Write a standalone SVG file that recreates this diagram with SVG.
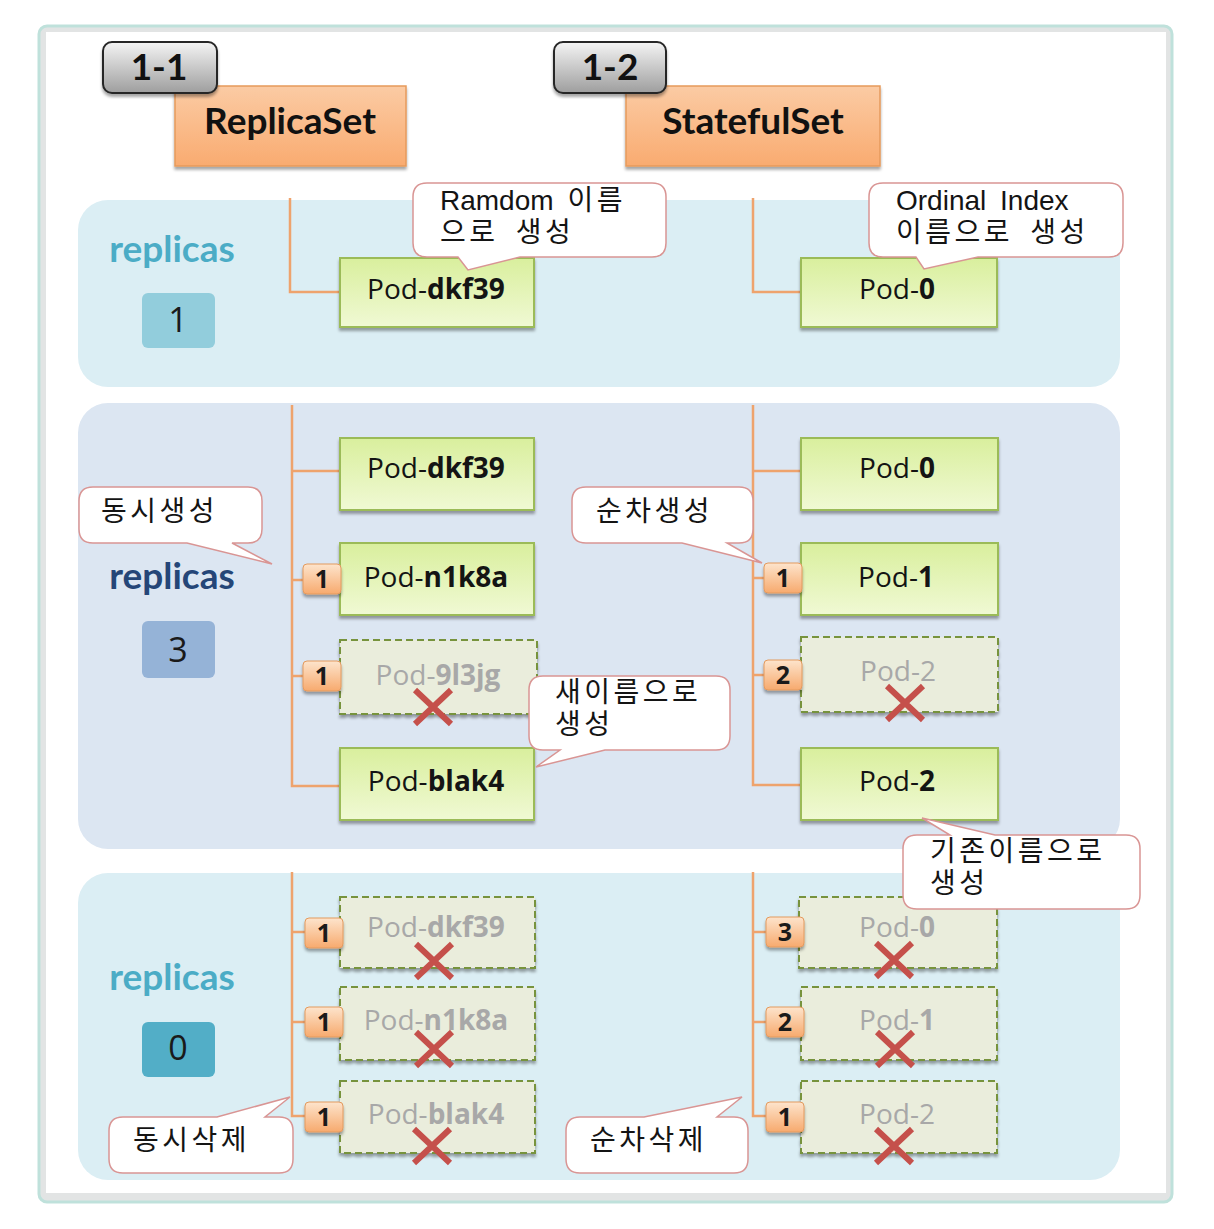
<svg xmlns="http://www.w3.org/2000/svg" width="1214" height="1229" viewBox="0 0 1214 1229">
<defs>
<filter id="sh" x="-10%" y="-10%" width="120%" height="135%"><feDropShadow dx="0" dy="3" stdDeviation="1.5" flood-color="#000" flood-opacity="0.35"/></filter>
<linearGradient id="gPod" x1="0" y1="0" x2="0" y2="1"><stop offset="0" stop-color="#d9ef9d"/><stop offset="1" stop-color="#f0f9d4"/></linearGradient>
<linearGradient id="gOr" x1="0" y1="0" x2="0" y2="1"><stop offset="0" stop-color="#fbcba4"/><stop offset="1" stop-color="#f9ab70"/></linearGradient>
<linearGradient id="gGr" x1="0" y1="0" x2="0" y2="1"><stop offset="0" stop-color="#f4f4f4"/><stop offset="1" stop-color="#9e9e9e"/></linearGradient>
<linearGradient id="gBd" x1="0" y1="0" x2="0" y2="1"><stop offset="0" stop-color="#fde4cc"/><stop offset="1" stop-color="#f7aa6e"/></linearGradient>
<style>
.pod{fill:url(#gPod);stroke:#9bbb59;stroke-width:2;filter:url(#sh)}
.dpod{fill:#eaeddc;stroke:#77933c;stroke-width:2;stroke-dasharray:7 4;filter:url(#sh)}
.pt{font-family:"Open Sans","Noto Sans CJK KR",sans-serif;font-size:28px;text-anchor:middle;fill:#141414}
.dt{fill:#a8a8a8}
.bd{fill:url(#gBd);stroke:#e39a5e;stroke-width:1;filter:url(#sh)}
.bt{font-family:"Open Sans",sans-serif;font-size:25px;font-weight:bold;text-anchor:middle;fill:#1a1a1a}
.x{stroke:#c5504b;stroke-width:6}
.conn{stroke:#eea36d;stroke-width:2.5;fill:none}
.co{fill:#fff;stroke:#d99594;stroke-width:1.5}
.ct{font-family:"Liberation Sans","Noto Sans CJK KR",sans-serif;font-size:28px;fill:#141414;word-spacing:6px}
.k{letter-spacing:3.5px}
.rep{font-family:Lato,"Liberation Sans",sans-serif;font-size:37px;font-weight:bold;text-anchor:middle}
.num{font-family:"Open Sans",sans-serif;font-size:34px;text-anchor:middle;fill:#1a1a1a}
.hd{fill:url(#gOr);stroke:#e69a5c;stroke-width:1.5;filter:url(#sh)}
.ht{font-family:Lato,"Liberation Sans",sans-serif;font-size:37px;font-weight:bold;text-anchor:middle;fill:#111}
.gb{fill:url(#gGr);stroke:#262626;stroke-width:2;filter:url(#sh)}
</style>
</defs>

<g id="frame">
<rect x="39" y="26" width="1133" height="1176" rx="8" fill="#e2e4e4" stroke="#bfe1db" stroke-width="3"/>
<rect x="46" y="32" width="1120" height="1161" fill="#ffffff"/>
</g>

<g id="sections">
<rect id="sec1" x="78" y="200" width="1042" height="187" rx="30" fill="#dbeef4"/>
<rect id="sec2" x="78" y="403" width="1042" height="446" rx="30" fill="#dce6f2"/>
<rect id="sec3" x="78" y="873" width="1042" height="307" rx="30" fill="#dbeef4"/>
</g>

<g id="headers">
<g id="replicaset"><rect class="hd" x="175" y="86" width="231" height="80"/><text class="ht" x="290" y="134">ReplicaSet</text></g>
<g id="badge-1-1"><rect class="gb" x="103" y="42" width="114" height="51" rx="9"/><text class="ht" x="159" y="80" font-size="36">1-1</text></g>
<g id="statefulset"><rect class="hd" x="626" y="86" width="254" height="80"/><text class="ht" x="753" y="134">StatefulSet</text></g>
<g id="badge-1-2"><rect class="gb" x="554" y="42" width="112" height="51" rx="9"/><text class="ht" x="610" y="80" font-size="36">1-2</text></g>
</g>

<g id="replicas-labels">
<g id="rep1"><text class="rep" x="172" y="262" fill="#4bacc6">replicas</text><rect x="142" y="293" width="73" height="55" rx="6" fill="#92cddc"/><text class="num" x="178" y="332">1</text></g>
<g id="rep3"><text class="rep" x="172" y="589" fill="#254678">replicas</text><rect x="142" y="621" width="73" height="57" rx="6" fill="#95b3d7"/><text class="num" x="178" y="662">3</text></g>
<g id="rep0"><text class="rep" x="172" y="990" fill="#4bacc6">replicas</text><rect x="142" y="1022" width="73" height="55" rx="6" fill="#52aec7"/><text class="num" x="178" y="1060">0</text></g>
</g>

<g id="connectors">
<path class="conn" d="M290 198V292H340"/>
<path class="conn" d="M753 198V292H801"/>
<path class="conn" d="M292 405V786H340M292 471H340M292 580H303M292 676H303"/>
<path class="conn" d="M753 405V785H801M753 471H801M753 578H764M753 675H764"/>
<path class="conn" d="M292 872V1116H305M292 932H305M292 1022H305"/>
<path class="conn" d="M753 872V1116H766M753 932H766M753 1022H766"/>
</g>

<g id="pods">
<g id="s1-pod-dkf39"><rect class="pod" x="340" y="258" width="194" height="69"/><text class="pt" x="436" y="299">Pod-<tspan font-weight="bold">dkf39</tspan></text></g>
<g id="s1-pod-0"><rect class="pod" x="801" y="258" width="196" height="69"/><text class="pt" x="897" y="299">Pod-<tspan font-weight="bold">0</tspan></text></g>

<g id="s2-pod-dkf39"><rect class="pod" x="340" y="438" width="194" height="72"/><text class="pt" x="436" y="478">Pod-<tspan font-weight="bold">dkf39</tspan></text></g>
<g id="s2-pod-n1k8a"><rect class="pod" x="340" y="543" width="194" height="72"/><text class="pt" x="436" y="587">Pod-<tspan font-weight="bold">n1k8a</tspan></text></g>
<g id="s2-pod-9l3jg"><rect class="dpod" x="340" y="640" width="197" height="74"/><text class="pt dt" x="438" y="685">Pod-<tspan font-weight="bold">9l3jg</tspan></text></g>
<g id="s2-pod-blak4"><rect class="pod" x="340" y="748" width="194" height="72"/><text class="pt" x="436" y="791">Pod-<tspan font-weight="bold">blak4</tspan></text></g>

<g id="s2-pod-0"><rect class="pod" x="801" y="438" width="197" height="72"/><text class="pt" x="897" y="478">Pod-<tspan font-weight="bold">0</tspan></text></g>
<g id="s2-pod-1"><rect class="pod" x="801" y="543" width="197" height="72"/><text class="pt" x="896" y="587">Pod-<tspan font-weight="bold">1</tspan></text></g>
<g id="s2-pod-2-old"><rect class="dpod" x="801" y="637" width="197" height="75"/><text class="pt dt" x="898" y="681">Pod-2</text></g>
<g id="s2-pod-2"><rect class="pod" x="801" y="748" width="197" height="72"/><text class="pt" x="897" y="791">Pod-<tspan font-weight="bold">2</tspan></text></g>

<g id="s3-pod-dkf39"><rect class="dpod" x="340" y="897" width="195" height="71"/><text class="pt dt" x="436" y="937">Pod-<tspan font-weight="bold">dkf39</tspan></text></g>
<g id="s3-pod-n1k8a"><rect class="dpod" x="340" y="987" width="195" height="73"/><text class="pt dt" x="436" y="1030">Pod-<tspan font-weight="bold">n1k8a</tspan></text></g>
<g id="s3-pod-blak4"><rect class="dpod" x="340" y="1081" width="195" height="72"/><text class="pt dt" x="436" y="1124">Pod-<tspan font-weight="bold">blak4</tspan></text></g>

<g id="s3-pod-0"><rect class="dpod" x="799" y="897" width="198" height="71"/><text class="pt dt" x="897" y="937">Pod-<tspan font-weight="bold">0</tspan></text></g>
<g id="s3-pod-1"><rect class="dpod" x="801" y="987" width="196" height="73"/><text class="pt dt" x="897" y="1030">Pod-<tspan font-weight="bold">1</tspan></text></g>
<g id="s3-pod-2"><rect class="dpod" x="801" y="1081" width="196" height="72"/><text class="pt dt" x="897" y="1124">Pod-2</text></g>
</g>

<g id="order-badges">
<g><rect class="bd" x="303" y="564" width="38" height="30" rx="4"/><text class="bt" x="322" y="588">1</text></g>
<g><rect class="bd" x="303" y="661" width="38" height="30" rx="4"/><text class="bt" x="322" y="685">1</text></g>
<g><rect class="bd" x="764" y="563" width="38" height="30" rx="4"/><text class="bt" x="783" y="587">1</text></g>
<g><rect class="bd" x="764" y="660" width="38" height="30" rx="4"/><text class="bt" x="783" y="684">2</text></g>
<g><rect class="bd" x="305" y="918" width="38" height="30" rx="4"/><text class="bt" x="324" y="942">1</text></g>
<g><rect class="bd" x="305" y="1007" width="38" height="30" rx="4"/><text class="bt" x="324" y="1031">1</text></g>
<g><rect class="bd" x="305" y="1102" width="38" height="30" rx="4"/><text class="bt" x="324" y="1126">1</text></g>
<g><rect class="bd" x="766" y="917" width="38" height="30" rx="4"/><text class="bt" x="785" y="941">3</text></g>
<g><rect class="bd" x="766" y="1007" width="38" height="30" rx="4"/><text class="bt" x="785" y="1031">2</text></g>
<g><rect class="bd" x="766" y="1102" width="38" height="30" rx="4"/><text class="bt" x="785" y="1126">1</text></g>
</g>

<g id="delete-marks">
<path class="x" d="M415 690L451 724M451 690L415 724"/>
<path class="x" d="M887 686L923 720M923 686L887 720"/>
<path class="x" d="M416 944L452 978M452 944L416 978"/>
<path class="x" d="M416 1032L452 1066M452 1032L416 1066"/>
<path class="x" d="M414 1129L450 1163M450 1129L414 1163"/>
<path class="x" d="M876 943L912 977M912 943L876 977"/>
<path class="x" d="M877 1032L913 1066M913 1032L877 1066"/>
<path class="x" d="M876 1129L912 1163M912 1129L876 1163"/>
</g>

<g id="callouts">
<g id="co-random"><path class="co" d="M427 183H652Q666 183 666 197V243Q666 257 652 257H520L468 270L458 257H427Q413 257 413 243V197Q413 183 427 183Z"/><text class="ct" x="440" y="210">Ramdom <tspan class="k">이름</tspan></text><text class="ct k" x="440" y="242">으로 생성</text></g>
<g id="co-ordinal"><path class="co" d="M883 183H1109Q1123 183 1123 197V243Q1123 257 1109 257H978L924 269L916 257H883Q869 257 869 243V197Q869 183 883 183Z"/><text class="ct" x="896" y="210">Ordinal Index</text><text class="ct k" x="896" y="242">이름으로 생성</text></g>
<g id="co-simul-create"><path class="co" d="M93 487H248Q262 487 262 501V529Q262 543 248 543H232L272 564L187 543H93Q79 543 79 529V501Q79 487 93 487Z"/><text class="ct k" x="101" y="521">동시생성</text></g>
<g id="co-seq-create"><path class="co" d="M586 487H739Q753 487 753 501V529Q753 543 739 543H727L762 563L682 543H586Q572 543 572 529V501Q572 487 586 487Z"/><text class="ct k" x="596" y="521">순차생성</text></g>
<g id="co-new-name"><path class="co" d="M543 676H716Q730 676 730 690V736Q730 750 716 750H605L536 767L560 750H543Q529 750 529 736V690Q529 676 543 676Z"/><text class="ct k" x="555" y="702">새이름으로</text><text class="ct k" x="555" y="734">생성</text></g>
<g id="co-old-name"><path class="co" d="M917 835H950L922 818L995 835H1126Q1140 835 1140 849V895Q1140 909 1126 909H917Q903 909 903 895V849Q903 835 917 835Z"/><text class="ct k" x="930" y="861">기존이름으로</text><text class="ct k" x="930" y="893">생성</text></g>
<g id="co-simul-delete"><path class="co" d="M123 1117H217L290 1097L265 1117H279Q293 1117 293 1131V1159Q293 1173 279 1173H123Q109 1173 109 1159V1131Q109 1117 123 1117Z"/><text class="ct k" x="133" y="1150">동시삭제</text></g>
<g id="co-seq-delete"><path class="co" d="M580 1117H644L742 1097L717 1117H734Q748 1117 748 1131V1159Q748 1173 734 1173H580Q566 1173 566 1159V1131Q566 1117 580 1117Z"/><text class="ct k" x="590" y="1150">순차삭제</text></g>
</g>
</svg>
